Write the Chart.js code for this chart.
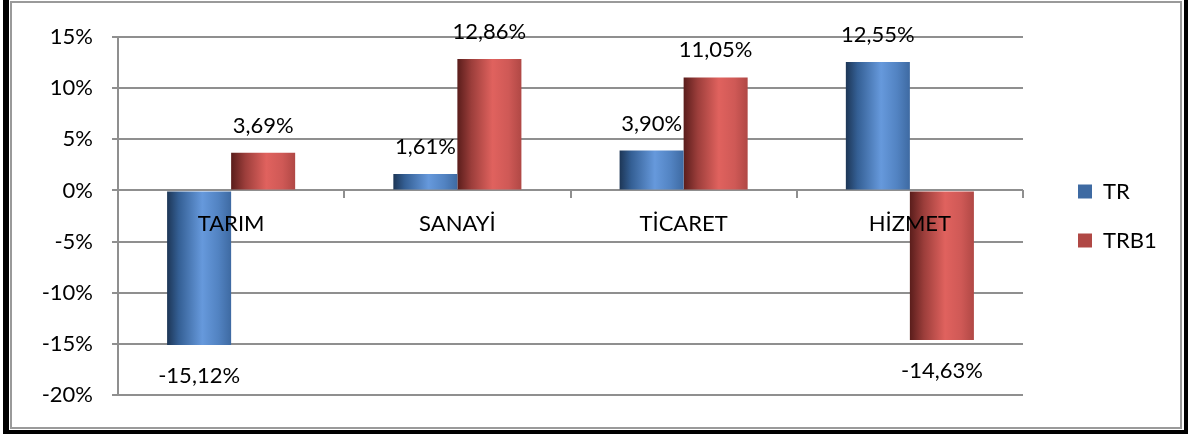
<!DOCTYPE html>
<html>
<head>
<meta charset="utf-8">
<script src="https://cdn.jsdelivr.net/npm/chart.js@4.4.1/dist/chart.umd.min.js"></script>
<style>
    html, body { margin: 0; padding: 0; background: #fff; }
    body { width: 1193px; height: 435px; position: relative; overflow: hidden; }
    .frame-outer {
        position: absolute; left: 3px; top: 0; width: 1175px; height: 430px;
        border-left: 6px solid #000; border-right: 4px solid #000; border-bottom: 4px solid #000;
    }
    .frame-inner {
        position: absolute; left: 1px; top: 1px; width: 1168px; height: 424px;
        border: 2px solid #9a9a9a;
    }
    #chart { position: absolute; left: 0; top: 0; }
</style>
</head>
<body>
<div class="frame-outer"><div class="frame-inner"></div></div>
<canvas id="chart" width="1193" height="435"></canvas>
<script>
// veriler
const categories = ['TARIM', 'SANAYİ', 'TİCARET', 'HİZMET'];
const seriesNames = ['TR', 'TRB1'];
const trValues = [-15.12, 1.61, 3.90, 12.55];
const trb1Values = [3.69, 12.86, 11.05, -14.63];
const yTicks = [-20, -15, -10, -5, 0, 5, 10, 15];

const FONT = { family: 'Lato, "Noto Sans", sans-serif', size: 22 };
const GRID = '#8f8f8f';
const CAT_PCT = 0.566;
const LEGEND_W = 170;

const blueStops = [[0, '#1d3656'], [0.18, '#345f94'], [0.55, '#6699dc'], [0.8, '#5283c2'], [1, '#3e6aa2']];
const redStops = [[0, '#5a1d1b'], [0.22, '#9c3e3b'], [0.55, '#e0625e'], [0.8, '#cf5956'], [1, '#b04845']];

function barFill(stops, solid) {
    return (c) => {
        const chart = c.chart, xs = chart.scales.x;
        if (c.type !== 'data' || !xs || !chart.chartArea) return solid;
        const catW = xs.width / categories.length;
        const barW = catW * CAT_PCT / 2;
        const left = xs.getPixelForValue(c.dataIndex) - catW * CAT_PCT / 2 + c.datasetIndex * barW;
        const g = chart.ctx.createLinearGradient(left, 0, left + barW, 0);
        stops.forEach(([o, col]) => g.addColorStop(o, col));
        return g;
    };
}

const fmt = v => v.toFixed(2).replace('.', ',') + '%';

// bar degerleri
const valueLabels = {
    id: 'valueLabels',
    afterDatasetsDraw(chart) {
        const ctx = chart.ctx;
        ctx.save();
        ctx.font = `${FONT.size}px ${FONT.family}`;
        ctx.fillStyle = '#000';
        ctx.textAlign = 'center';
        ctx.textBaseline = 'middle';
        chart.data.datasets.forEach((ds, di) => {
            chart.getDatasetMeta(di).data.forEach((el, i) => {
                const v = ds.data[i];
                ctx.fillText(fmt(v), el.x, v >= 0 ? el.y - 27 : el.y + 31);
            });
        });
        ctx.restore();
    }
};

// legend genisligi ve yeri
const legendPlace = {
    id: 'legendPlace',
    afterInit(chart) {
        const lg = chart.legend;
        const fit = lg.fit;
        lg.fit = function () { fit.call(this); this.width = LEGEND_W; };
    },
    afterLayout(chart) {
        const lg = chart.legend;
        lg.left += 28;
        lg.right += 28;
    }
};

new Chart(document.getElementById('chart').getContext('2d'), {
    type: 'bar',
    data: {
        labels: categories,
        datasets: [
            { label: seriesNames[0], data: trValues, backgroundColor: barFill(blueStops, '#4f81bd'), borderWidth: 0 },
            { label: seriesNames[1], data: trb1Values, backgroundColor: barFill(redStops, '#c0504d'), borderWidth: 0 }
        ]
    },
    options: {
        responsive: false, animation: false,
        layout: { padding: { left: 0, top: 37, right: 0, bottom: 40 } },
        datasets: { bar: { categoryPercentage: CAT_PCT, barPercentage: 1 } },
        plugins: {
            legend: {
                position: 'right', align: 'center',
                labels: { color: '#000', font: FONT, boxWidth: 14, boxHeight: 14, padding: 27 }
            },
            tooltip: { enabled: false }
        },
        scales: {
            x: {
                position: { y: 0 },
                grid: { display: true, drawOnChartArea: false, drawTicks: true, tickLength: 8, offset: true, color: GRID, lineWidth: 2 },
                border: { display: false },
                ticks: { color: '#000', font: FONT, padding: 12, z: 1, maxRotation: 0 }
            },
            y: {
                min: -20, max: 15,
                afterFit(s) { s.width = 118; },
                afterBuildTicks(s) { s.ticks = yTicks.map(v => ({ value: v })); },
                grid: { color: GRID, lineWidth: 2, tickLength: 6, drawTicks: true },
                border: { display: true, color: GRID, width: 2 },
                ticks: { color: '#000', font: FONT, padding: 19, callback: v => v + '%' }
            }
        }
    },
    plugins: [valueLabels, legendPlace]
});
</script>
</body>
</html>
